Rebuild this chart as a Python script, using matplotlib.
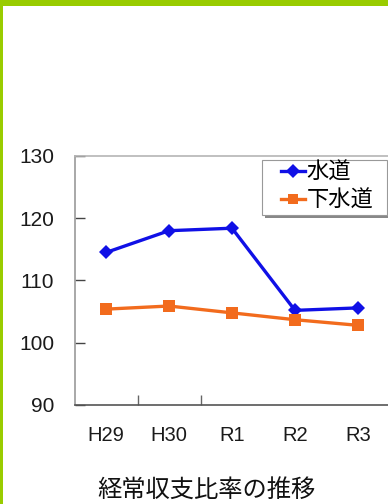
import matplotlib
matplotlib.use("Agg")
import matplotlib.pyplot as plt
from matplotlib.patches import Rectangle

# Fiscal years and operating-balance ratios (%)
years = ["H29", "H30", "R1", "R2", "R3"]
water = [114.5, 118.0, 118.4, 105.2, 105.6]
sewer = [105.4, 105.9, 104.8, 103.7, 102.8]
yticks = [90, 100, 110, 120, 130]
series_names = ["水道", "下水道"]
title = "経常収支比率の推移"

W, H = 388, 504
fig = plt.figure(figsize=(W / 100, H / 100), dpi=100)
fig.patch.set_facecolor("white")

# green frame along the top and left edges
green = "#99CC00"
fig.add_artist(Rectangle((0, 1 - 6 / H), 1, 6 / H, transform=fig.transFigure,
                         facecolor=green, edgecolor="none", zorder=10))
fig.add_artist(Rectangle((0, 0), 2.5 / W, 1, transform=fig.transFigure,
                         facecolor=green, edgecolor="none", zorder=10))

left, right, top, bottom = 74.5, 389.5, 156, 405
ax = fig.add_axes([left / W, 1 - bottom / H, (right - left) / W, (bottom - top) / H])

x = list(range(len(years)))
l1, = ax.plot(x, water, color="#1010E6", lw=2.4, marker="D", markersize=7.5,
              markeredgewidth=0, label=series_names[0], zorder=3)
l2, = ax.plot(x, sewer, color="#F26B1D", lw=2.4, marker="s", markersize=8,
              markeredgewidth=0, label=series_names[1], zorder=3)

ax.set_xlim(-0.5, len(years) - 0.5)
ax.set_ylim(yticks[0], yticks[-1])

font = "Liberation Sans"
ax.set_yticks(yticks)
ax.set_yticklabels([str(v) for v in yticks], fontsize=15, family=font, color="#1a1a1a")
ax.tick_params(axis="y", direction="in", length=7, width=1, color="#444444", pad=14.5)

ax.set_xticks(x)
ax.set_xticklabels(years, fontsize=14.5, family=font, color="#1a1a1a")
ax.tick_params(axis="x", which="major", length=0, pad=15)
ax.set_xticks([0.5, 1.5], minor=True)
ax.tick_params(axis="x", which="minor", direction="in", length=7, width=1, color="#666666")

ax.spines["left"].set_color("#9a9a9a")
ax.spines["top"].set_color("#b5b5b5")
ax.spines["bottom"].set_color("#555555")
ax.spines["right"].set_visible(False)
for s in ("left", "top", "bottom"):
    ax.spines[s].set_linewidth(1.2)

# legend box with a drop shadow
bx0, bx1, by0, by1 = 262, 387, 160, 215
fig.add_artist(Rectangle((bx0 / W + 2.5 / W, 1 - by1 / H - 2.5 / H), (bx1 - bx0) / W, (by1 - by0) / H,
                         transform=fig.transFigure, facecolor="#888888",
                         edgecolor="none", zorder=4))
fig.add_artist(Rectangle((bx0 / W, 1 - by1 / H), (bx1 - bx0) / W, (by1 - by0) / H,
                         transform=fig.transFigure, facecolor="white",
                         edgecolor="#999999", lw=0.8, zorder=5))

leg = fig.legend(handles=[l1, l2], loc="upper left",
                 bbox_to_anchor=(281 / W, 1 - 161 / H), borderaxespad=0,
                 prop={"family": ["Noto Sans CJK JP"], "size": 16},
                 frameon=False, handlelength=1.1, handletextpad=0.05,
                 labelspacing=0.2, borderpad=0, markerscale=0.9)
leg.set_zorder(6)

fig.text(206 / W, 1 - 491 / H, title, ha="center", va="center",
         fontsize=17.5, family=["Noto Sans CJK JP"], color="#111111")

fig.savefig("out.png", dpi=100, facecolor="white")
